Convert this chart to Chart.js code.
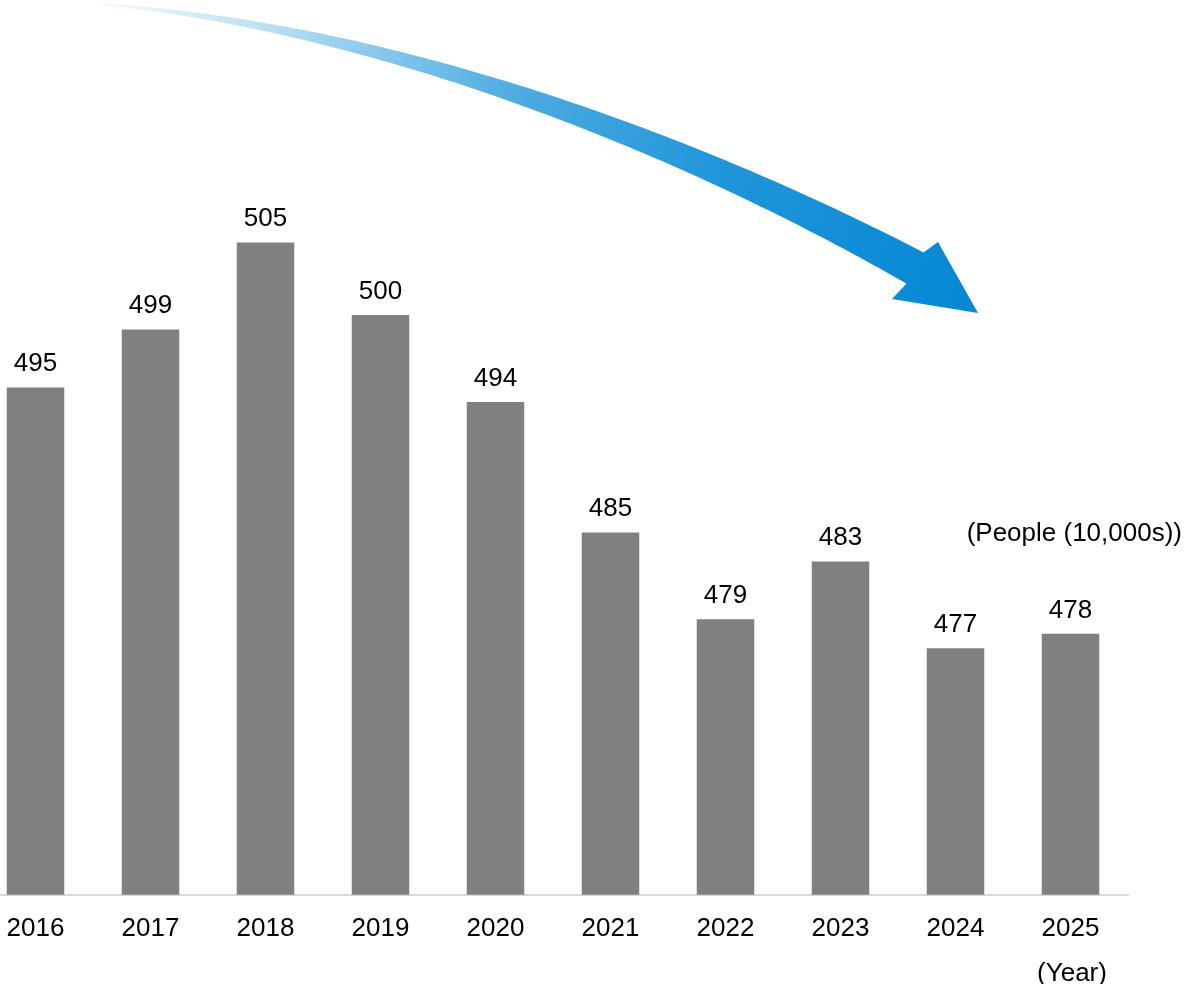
<!DOCTYPE html>
<html>
<head>
<meta charset="utf-8">
<script src="https://cdn.jsdelivr.net/npm/chart.js@4"></script>
<style>
  html, body { margin: 0; padding: 0; background: #fff; overflow: hidden; }
  #wrap { position: absolute; left: -22px; top: 0; width: 1206px; height: 984px; }
</style>
</head>
<body>
<div id="wrap"><canvas id="chart"></canvas></div>
<script>
const years = ["2016", "2017", "2018", "2019", "2020", "2021", "2022", "2023", "2024", "2025"];
const people = [495, 499, 505, 500, 494, 485, 479, 483, 477, 478];
const unitLabel = "(People (10,000s))";
const yearLabel = "(Year)";

const FONT = "'Liberation Sans', Arial, sans-serif";
const SHIFT = 22; // canvas is moved left so the first bar sits at the page edge

// value labels above the bars
const valueLabels = {
  id: "valueLabels",
  afterDatasetsDraw(chart) {
    const ctx = chart.ctx;
    const meta = chart.getDatasetMeta(0);
    ctx.save();
    ctx.font = "26px " + FONT;
    ctx.fillStyle = "#000";
    ctx.textAlign = "center";
    ctx.textBaseline = "alphabetic";
    meta.data.forEach((bar, i) => {
      ctx.fillText(String(people[i]), bar.x, bar.y - 16);
    });
    ctx.restore();
  }
};

// unit texts and the decorative trend arrow
const extras = {
  id: "extras",
  afterDraw(chart) {
    const ctx = chart.ctx;
    ctx.save();
    ctx.translate(SHIFT, 0);

    ctx.font = "26px " + FONT;
    ctx.fillStyle = "#000";
    ctx.textBaseline = "alphabetic";
    ctx.textAlign = "right";
    ctx.fillText(unitLabel, 1182, 541);
    ctx.textAlign = "center";
    ctx.fillText(yearLabel, 1072, 981);

    // arrow: tapered curved shaft + head
    const p0 = [100, 4], p1 = [380, 27], p2 = [680, 140], p3 = [915, 268];
    const pt = t => {
      const a = (1 - t) * (1 - t) * (1 - t), b = 3 * (1 - t) * (1 - t) * t, c = 3 * (1 - t) * t * t, d = t * t * t;
      return [a * p0[0] + b * p1[0] + c * p2[0] + d * p3[0], a * p0[1] + b * p1[1] + c * p2[1] + d * p3[1]];
    };
    const tan = t => {
      const a = 3 * (1 - t) * (1 - t), b = 6 * (1 - t) * t, c = 3 * t * t;
      return [a * (p1[0] - p0[0]) + b * (p2[0] - p1[0]) + c * (p3[0] - p2[0]),
              a * (p1[1] - p0[1]) + b * (p2[1] - p1[1]) + c * (p3[1] - p2[1])];
    };
    const width = t => 1.5 + 34 * t;
    const upper = [], lower = [];
    const steps = 100;
    for (let i = 0; i <= steps; i++) {
      const t = i / steps;
      const p = pt(t), d = tan(t);
      const len = Math.hypot(d[0], d[1]);
      const nx = d[1] / len, ny = -d[0] / len;
      const w = width(t) / 2;
      upper.push([p[0] + nx * w, p[1] + ny * w]);
      lower.push([p[0] - nx * w, p[1] - ny * w]);
    }
    const grad = ctx.createLinearGradient(100, 0, 960, 300);
    grad.addColorStop(0, "#f4fafd");
    grad.addColorStop(0.19, "#b8def3");
    grad.addColorStop(0.335, "#7cc3ea");
    grad.addColorStop(0.48, "#4aaae0");
    grad.addColorStop(0.7, "#2196da");
    grad.addColorStop(1, "#0688d5");
    ctx.beginPath();
    ctx.moveTo(upper[0][0], upper[0][1]);
    upper.forEach(q => ctx.lineTo(q[0], q[1]));
    ctx.lineTo(938, 242);
    ctx.lineTo(978, 313);
    ctx.lineTo(892, 299);
    for (let i = lower.length - 1; i >= 0; i--) ctx.lineTo(lower[i][0], lower[i][1]);
    ctx.closePath();
    ctx.fillStyle = grad;
    ctx.fill();
    ctx.restore();
  }
};

new Chart(document.getElementById("chart"), {
  type: "bar",
  data: {
    labels: years,
    datasets: [{
      data: people,
      backgroundColor: "#808080",
      borderWidth: 0,
      categoryPercentage: 1,
      barPercentage: 0.5
    }]
  },
  options: {
    responsive: true,
    maintainAspectRatio: false,
    animation: false,
    layout: { padding: { top: 25, bottom: 22, left: 0, right: 56 } },
    plugins: { legend: { display: false }, tooltip: { enabled: false } },
    scales: {
      x: {
        grid: { display: false, drawTicks: false },
        border: { display: true, color: "#d9d9d9", width: 2 },
        ticks: { color: "#000", font: { size: 26, family: FONT }, padding: 18, maxRotation: 0 }
      },
      y: {
        display: false,
        min: 460,
        max: 520
      }
    }
  },
  plugins: [valueLabels, extras]
});
</script>
</body>
</html>
